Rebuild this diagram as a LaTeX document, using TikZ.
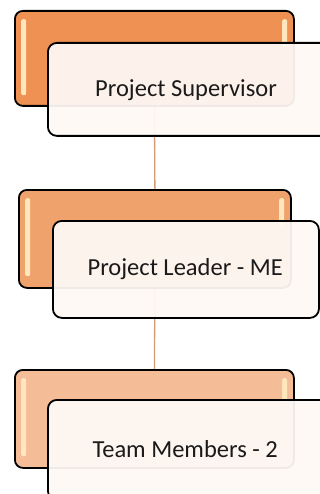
\documentclass[tikz,border=0pt]{standalone}
\usepackage{fontspec}
\setmainfont{Carlito}
\definecolor{or1}{HTML}{EE9152}
\definecolor{or2}{HTML}{F0A26D}
\definecolor{or3}{HTML}{F4BD98}
\definecolor{cream}{HTML}{FFE6BC}
\definecolor{wfill}{HTML}{FEF9F5}
\definecolor{connc}{HTML}{D49A78}
\definecolor{txt}{HTML}{1A1A1A}
\begin{document}
\begin{tikzpicture}[x=1pt,y=-1pt,
  obox/.style={draw=black,line width=1.8pt,rounded corners=8pt,inner sep=0pt,anchor=north west},
  wbox/.style={draw=black,line width=1.8pt,rounded corners=9pt,inner sep=0pt,anchor=north west,fill=wfill,fill opacity=0.94,draw opacity=1},
  hl/.style={fill=cream,draw=none,rounded corners=2pt,inner sep=0pt,anchor=north west,minimum width=5pt},
  conn/.style={draw=connc,line width=1.3pt},
  lbl/.style={font=\fontsize{24.5}{27}\selectfont,text=txt,inner sep=0pt,anchor=base east}]
\useasboundingbox (0,0) rectangle (320,494);
\clip (0,0) rectangle (320,494);
\fill[white] (0,0) rectangle (320,494);
% orange boxes
\node[obox,fill=or1,minimum width=279pt,minimum height=95pt] (o1) at (14,10) {};
\node[obox,fill=or2,minimum width=272pt,minimum height=98pt] (o2) at (18,189) {};
\node[obox,fill=or3,minimum width=279pt,minimum height=98pt] (o3) at (14,369) {};
% highlights
\node[hl,minimum height=76pt] (h1a) at (21,19) {};
\node[hl,minimum height=28pt] (h1b) at (282,19) {};
\node[hl,minimum height=78pt] (h2a) at (25,198) {};
\node[hl,minimum height=28pt] (h2b) at (279,198) {};
\node[hl,minimum height=78pt] (h3a) at (21,378) {};
\node[hl,minimum height=28pt] (h3b) at (282,378) {};
% connectors
\draw[conn] (o1.south) -- (o2.north);
\draw[conn] (o2.south) -- (o3.north);
% white boxes
\node[wbox,minimum width=290pt,minimum height=93pt] (w1) at (47,42) {};
\node[wbox,minimum width=266pt,minimum height=97pt] (w2) at (52,220) {};
\node[wbox,minimum width=290pt,minimum height=100pt] (w3) at (47,399) {};
% labels
\node[lbl] (t1) at (277,97) {Project Supervisor};
\node[lbl] (t2) at (283,275) {Project Leader - ME};
\node[lbl] (t3) at (278,457) {Team Members - 2};
\end{tikzpicture}
\end{document}
